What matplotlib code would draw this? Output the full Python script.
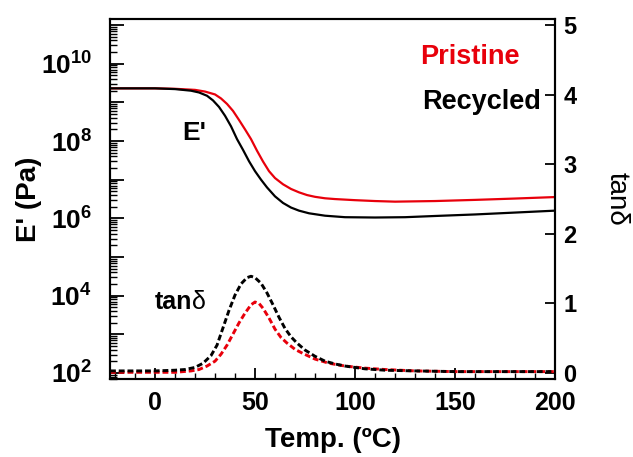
import numpy as np
import matplotlib
matplotlib.use("Agg")
import matplotlib.pyplot as plt
from matplotlib.ticker import FixedLocator, LogLocator, NullFormatter, MultipleLocator, FuncFormatter

plt.rcParams['font.family'] = ['Liberation Sans', 'DejaVu Sans']
plt.rcParams['mathtext.fontset'] = 'custom'
plt.rcParams['mathtext.rm'] = 'Liberation Sans:bold'
plt.rcParams['mathtext.bf'] = 'Liberation Sans:bold'
plt.rcParams['mathtext.it'] = 'Liberation Sans:bold'

# storage modulus, Pa
temp_e = [-22.5, -10, 0, 10, 20, 25, 30, 33, 36, 39, 42, 45, 48, 51, 54, 57, 60,
          64, 68, 72, 76, 80, 85, 90, 100, 110, 120, 140, 160, 180, 200]
e_pristine = [2.3e9, 2.3e9, 2.3e9, 2.24e9, 2.1e9, 1.9e9, 1.6e9, 1.26e9, 9.1e8, 6.0e8,
              3.5e8, 2.0e8, 1.12e8, 5.6e7, 2.95e7, 1.66e7, 1.1e7,
              7.6e6, 5.75e6, 4.7e6, 4.0e6, 3.6e6, 3.3e6, 3.15e6, 2.95e6, 2.8e6, 2.7e6,
              2.8e6, 3.0e6, 3.25e6, 3.55e6]

temp_e2 = [-22.5, 0, 10, 18, 22, 26, 29, 32, 35, 38, 41, 44, 47, 50, 53, 56, 60,
           64, 68, 72, 77, 85, 95, 110, 125, 140, 160, 180, 200]
e_recycled = [2.3e9, 2.3e9, 2.2e9, 2.0e9, 1.8e9, 1.48e9, 1.12e9, 7.6e8, 4.5e8, 2.4e8,
              1.12e8, 5.9e7, 3.0e7, 1.66e7, 1.0e7, 6.3e6, 3.7e6,
              2.5e6, 1.9e6, 1.58e6, 1.35e6, 1.17e6, 1.07e6, 1.05e6, 1.07e6, 1.15e6,
              1.26e6, 1.41e6, 1.58e6]

# loss factor
temp_tan = [-22.5, 0, 10, 15, 20, 24, 28, 31, 34, 37, 40, 43, 46, 48, 50, 53, 56,
            59, 62, 65, 68, 71, 75, 80, 85, 90, 95, 105, 115, 130, 150, 175, 200]
tan_recycled = [0.03, 0.03, 0.04, 0.05, 0.08, 0.14, 0.25, 0.40, 0.65, 0.90, 1.12, 1.28,
                1.37, 1.39, 1.37, 1.29, 1.15, 0.98, 0.80, 0.64, 0.52, 0.43, 0.33, 0.24,
                0.17, 0.13, 0.10, 0.06, 0.04, 0.03, 0.02, 0.02, 0.02]

temp_tan2 = [-22.5, 0, 10, 18, 22, 26, 30, 33, 36, 39, 42, 45, 48, 50, 52, 54, 57,
             60, 63, 66, 70, 74, 80, 87, 95, 105, 115, 130, 150, 175, 200]
tan_pristine = [0.01, 0.01, 0.01, 0.03, 0.05, 0.10, 0.17, 0.27, 0.40, 0.56, 0.72, 0.86,
                0.98, 1.02, 1.00, 0.93, 0.79, 0.63, 0.51, 0.43, 0.34, 0.28, 0.20, 0.14,
                0.10, 0.07, 0.05, 0.03, 0.02, 0.02, 0.02]

fig = plt.figure(figsize=(6.33, 4.57), dpi=100)
ax = fig.add_axes([0.1738, 0.1707, 0.7030, 0.7877])
ax2 = ax.twinx()

ax.plot(temp_e, e_pristine, color='#e8000b', lw=1.6)
ax.plot(temp_e2, e_recycled, color='black', lw=1.6)
ax2.plot(temp_tan2, tan_pristine, color='#e8000b', lw=2.1, ls=(0, (2, 1)))
ax2.plot(temp_tan, tan_recycled, color='black', lw=2.1, ls=(0, (2, 1)))

ax.set_yscale('log')
ax.set_xlim(-22.5, 200)
ax.set_ylim(10**1.845, 10**11.155)
ax2.set_ylim(-0.086, 5.086)

# left axis: every decade ticked, even decades labelled
ax.yaxis.set_major_locator(FixedLocator([10.0**k for k in range(2, 12)]))
ax.yaxis.set_minor_locator(LogLocator(base=10, subs=np.arange(2, 10), numticks=30))
ax.yaxis.set_minor_formatter(NullFormatter())
ax.yaxis.set_major_formatter(FuncFormatter(
    lambda v, p: r'$10^{%d}$' % round(np.log10(v)) if round(np.log10(v)) % 2 == 0 else ''))

ax.xaxis.set_major_locator(MultipleLocator(50))
ax.xaxis.set_minor_locator(MultipleLocator(10))
ax2.yaxis.set_major_locator(MultipleLocator(1))

ax.tick_params(axis='y', which='major', direction='in', length=10, width=1.3,
               labelsize=19, pad=13)
ax.tick_params(axis='y', which='minor', direction='in', length=5, width=1.0)
ax.tick_params(axis='x', which='major', direction='in', length=8, width=1.3,
               labelsize=18, pad=9)
ax.tick_params(axis='x', which='minor', direction='in', length=4, width=1.0)
ax2.tick_params(axis='y', which='major', direction='in', length=7, width=1.3,
                labelsize=17, pad=6)
for lab in ax.get_xticklabels() + ax2.get_yticklabels():
    lab.set_fontweight('bold')

for a in (ax, ax2):
    for s in a.spines.values():
        s.set_linewidth(1.5)

ax.set_xlabel('Temp. (ºC)', fontsize=20, fontweight='bold', labelpad=8)
ax.set_ylabel("E' (Pa)", fontsize=20, fontweight='bold', labelpad=-1)
ax2.set_ylabel('tanδ', fontsize=20, rotation=270, labelpad=38)

ax.text(0.809, 0.894, 'Pristine', transform=ax.transAxes, color='#e8000b',
        fontsize=19.5, fontweight='bold', ha='center', va='center')
ax.text(0.834, 0.769, 'Recycled', transform=ax.transAxes, color='black',
        fontsize=19.5, fontweight='bold', ha='center', va='center')
ax.text(0.189, 0.683, "E'", transform=ax.transAxes, fontsize=19,
        fontweight='bold', ha='center', va='center')
ax.text(0.185, 0.214, 'tan', transform=ax.transAxes, fontsize=18,
        fontweight='bold', ha='right', va='center')
ax.text(0.185, 0.214, 'δ', transform=ax.transAxes, fontsize=18,
        ha='left', va='center')

fig.savefig('out.png', dpi=100)
